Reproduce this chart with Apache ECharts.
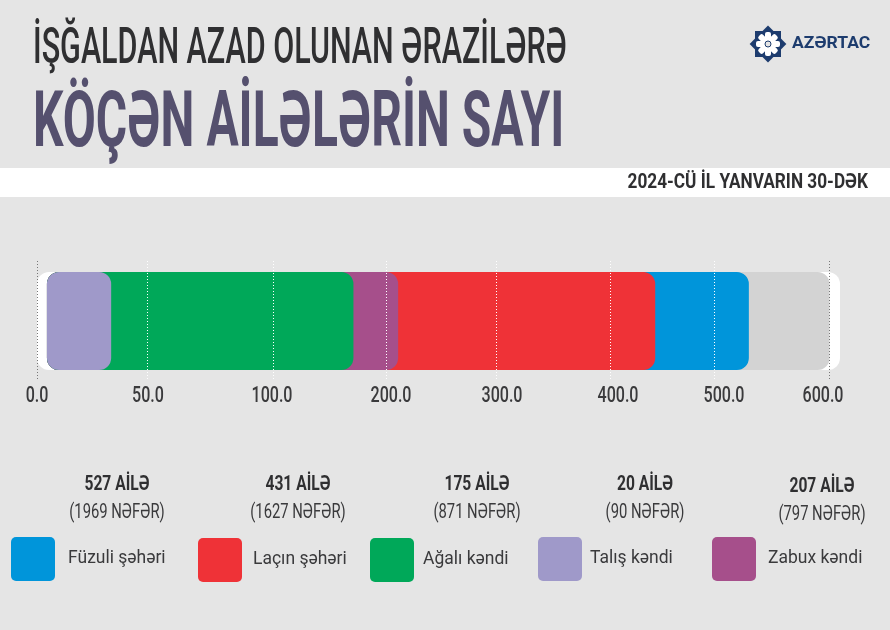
<!DOCTYPE html>
<html>
<head>
<meta charset="utf-8">
<script src="https://cdn.jsdelivr.net/npm/echarts@6/dist/echarts.min.js"></script>
<style>
html, body { margin: 0; padding: 0; background: #e5e5e5; }
#main { width: 890px; height: 630px; }
</style>
</head>
<body>
<div id="main"></div>
<script>
var regions = ['Füzuli şəhəri', 'Laçın şəhəri', 'Ağalı kəndi', 'Talış kəndi', 'Zabux kəndi'];
var families = [527, 431, 175, 20, 207];
var people = [1969, 1627, 871, 90, 797];
// bar ends as they read against the printed axis
var barEnds = [530, 443, 171, 33.5, 211];
var colors = ['#0095da', '#ef3237', '#00a859', '#9f99c9', '#a64f8b'];
var tickValues = [0, 50, 100, 200, 300, 400, 500, 600];
var tickLabels = ['0.0', '50.0', '100.0', '200.0', '300.0', '400.0', '500.0', '600.0'];
var barStart = 4.5;
var trackEnd = 600.5;
var frameEnd = 609.6;

// the printed axis is not linear, spots are where each tick sits on the grid
var tickSpots = [0, 110.7, 236.7, 349, 459.5, 573.5, 677.5, 792];
var labelSpots = [0, 111, 235, 354, 465, 581, 687, 786];
var gridWidth = 803;

function place(v) {
    for (var i = 1; i < tickValues.length; i++) {
        if (v <= tickValues[i] || i === tickValues.length - 1) {
            var t = (v - tickValues[i - 1]) / (tickValues[i] - tickValues[i - 1]);
            return tickSpots[i - 1] + t * (tickSpots[i] - tickSpots[i - 1]);
        }
    }
}

var FONT = 'Roboto, sans-serif';

function barSeries(name, color, from, to, z) {
    return {
        type: 'custom',
        name: name,
        z: z,
        clip: false,
        itemStyle: { color: color },
        encode: { x: [0, 1], y: 2 },
        data: [[place(from), place(to), 0]],
        renderItem: function (params, api) {
            var a = api.coord([api.value(0), 0]);
            var b = api.coord([api.value(1), 0]);
            return {
                type: 'rect',
                shape: { x: a[0], y: a[1] - 49, width: b[0] - a[0], height: 98, r: 12 },
                style: { fill: color }
            };
        }
    };
}

// painted back to front, each bar covers the next longer one
var order = [0, 1, 4, 2, 3];
var series = [
    barSeries('frame', '#ffffff', 0, frameEnd, 1),
    barSeries('track', '#d3d3d3', barStart, trackEnd, 2)
];
order.forEach(function (k, i) {
    series.push(barSeries(regions[k], colors[k], barStart, barEnds[k], 3 + i));
});

// tick labels are condensed in the original, axisLabel can't squeeze text
series.push({
    type: 'custom',
    name: 'ticks',
    z: 12,
    clip: false,
    encode: { x: 0 },
    data: labelSpots.map(function (spot, i) { return [spot, i]; }),
    renderItem: function (params, api) {
        var p = api.coord([api.value(0), 0]);
        return {
            type: 'text',
            x: p[0],
            y: 396,
            scaleX: 0.73,
            style: {
                text: tickLabels[api.value(1)],
                font: '500 22px ' + FONT,
                fill: '#3a3a3c',
                align: 'center',
                verticalAlign: 'middle'
            }
        };
    }
});

var swatch = 'path://M5 0H39A5 5 0 0 1 44 5V39A5 5 0 0 1 39 44H5A5 5 0 0 1 0 39V5A5 5 0 0 1 5 0Z';
var legendLeft = [11, 198, 370, 538, 712];
var legendTop = [537, 538, 538, 537, 537];
var legendGap = [8, 6, 4, 3, 7];

var legends = regions.map(function (name, i) {
    return {
        left: legendLeft[i],
        top: legendTop[i],
        padding: 0,
        itemWidth: 44,
        itemHeight: 44,
        icon: swatch,
        selectedMode: false,
        data: [name],
        textStyle: { fontFamily: FONT, fontSize: 17.5, color: '#3a3a3c', padding: [0, 0, 0, legendGap[i]] }
    };
});

function text(str, x, y, font, fill, align, sx) {
    return {
        type: 'text',
        x: x, y: y,
        scaleX: sx || 1,
        style: { text: str, font: font, fill: fill, align: align || 'left', verticalAlign: 'middle' },
        z: 20
    };
}

var countCenter = [117, 298, 477, 645, 822];
var countY = [485, 485, 485, 485, 487];
var graphics = [
    { type: 'rect', shape: { x: 0, y: 168, width: 890, height: 29 }, style: { fill: '#ffffff' }, z: 1 },
    text('İŞĞALDAN AZAD OLUNAN ƏRAZİLƏRƏ', 33, 50, '500 50px ' + FONT, '#2f2f31', 'left', 0.61),
    text('KÖÇƏN AİLƏLƏRİN SAYI', 33, 126, 'bold 78px ' + FONT, '#55506e', 'left', 0.615),
    text('2024-CÜ İL YANVARIN 30-DƏK', 868, 183, 'bold 21px ' + FONT, '#2f2f31', 'right', 0.82),
    text('AZƏRTAC', 792, 44, 'bold 17px ' + FONT, '#1d3c6e', 'left', 1.03)
];

// logo
[0, 45].forEach(function (deg) {
    graphics.push({
        type: 'rect', x: 768, y: 44, rotation: deg * Math.PI / 180,
        shape: { x: -13, y: -13, width: 26, height: 26 },
        style: { fill: '#1d3c6e' }, z: 20
    });
});
[0, 45, 90, 135].forEach(function (deg) {
    graphics.push({
        type: 'rect', x: 768, y: 44, rotation: deg * Math.PI / 180,
        shape: { x: -3, y: -12, width: 6, height: 24, r: 2 },
        style: { fill: '#ffffff' }, z: 21
    });
});
graphics.push({
    type: 'circle', x: 768, y: 44, shape: { r: 3 },
    style: { fill: '#e5e5e5', stroke: '#1d3c6e', lineWidth: 1 }, z: 22
});

families.forEach(function (n, i) {
    graphics.push(text(n + ' AİLƏ', countCenter[i], countY[i], 'bold 20px ' + FONT, '#2f2f31', 'center', 0.78));
    graphics.push(text('(' + people[i] + ' NƏFƏR)', countCenter[i], countY[i] + 28, '20px ' + FONT, '#3a3a3c', 'center', 0.74));
});

var myChart = echarts.init(document.getElementById('main'), null, { renderer: 'canvas' });
myChart.setOption({
    backgroundColor: '#e5e5e5',
    animation: false,
    grid: { left: 37, top: 261, width: gridWidth, height: 120 },
    legend: legends,
    xAxis: {
        type: 'value',
        min: 0,
        max: gridWidth,
        z: 10,
        axisLine: { show: false },
        axisTick: { show: false, customValues: tickSpots },
        splitLine: {
            show: true,
            lineStyle: {
                type: [1, 2],
                width: 1,
                color: ['#777777', '#ffffff', '#ffffff', '#ffffff', '#ffffff', '#ffffff', '#ffffff', '#777777']
            }
        },
        axisLabel: { show: false }
    },
    yAxis: { type: 'category', data: [''], show: false },
    series: series,
    graphic: graphics
});
</script>
</body>
</html>
